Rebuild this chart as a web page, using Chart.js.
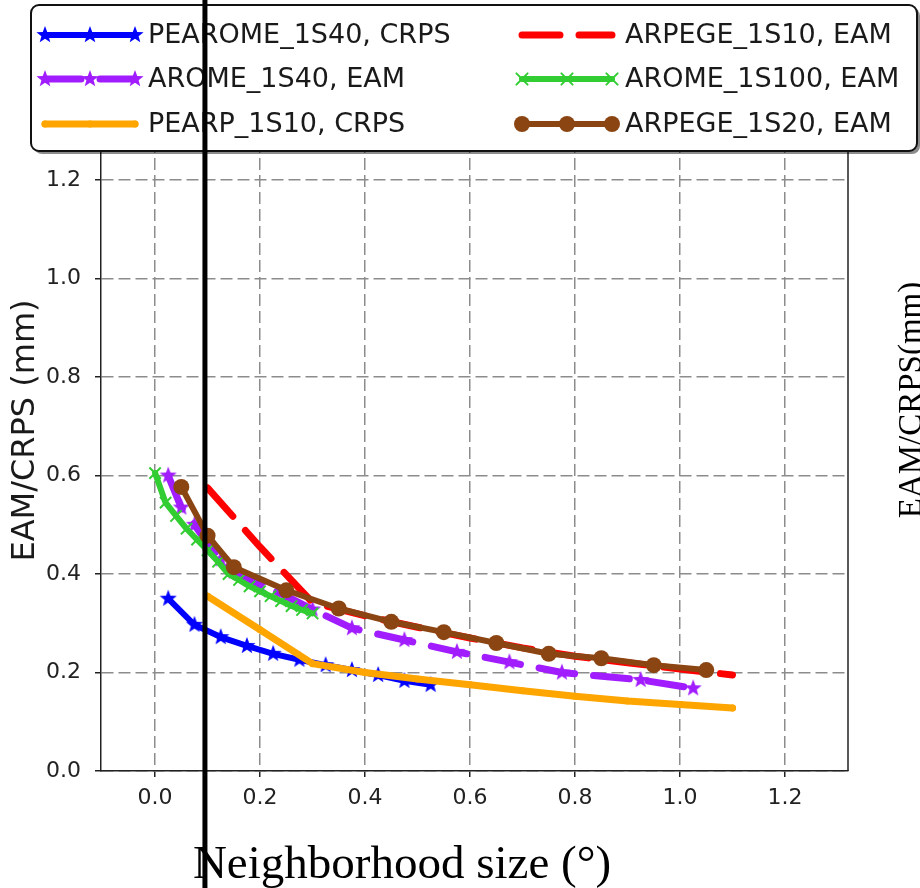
<!DOCTYPE html>
<html>
<head>
<meta charset="utf-8">
<script src="https://cdn.jsdelivr.net/npm/chart.js@4.4.1/dist/chart.umd.min.js"></script>
<style>
html, body { margin: 0; padding: 0; background: #fff; }
canvas { display: block; }
</style>
</head>
<body>
<canvas id="myChart" width="920" height="888"></canvas>
<script>
// values
var xTickValues = [0.0, 0.2, 0.4, 0.6, 0.8, 1.0, 1.2];
var yTickValues = [0.0, 0.2, 0.4, 0.6, 0.8, 1.0, 1.2];

var pearomeX = [0.025, 0.075, 0.125, 0.175, 0.225, 0.275, 0.325, 0.375, 0.425, 0.475, 0.525];
var pearomeY = [0.35, 0.297, 0.272, 0.254, 0.238, 0.226, 0.215, 0.205, 0.195, 0.183, 0.175];

var aromeX = [0.025, 0.05, 0.075, 0.1, 0.125, 0.15, 0.2, 0.25, 0.3, 0.375, 0.475, 0.575, 0.675, 0.775, 0.925, 1.025];
var aromeY = [0.6, 0.535, 0.5, 0.462, 0.43, 0.405, 0.378, 0.355, 0.328, 0.29, 0.266, 0.242, 0.221, 0.2, 0.185, 0.168];

var pearpX = [0.1, 0.2, 0.3, 0.4, 0.5, 0.6, 0.7, 0.8, 0.9, 1.0, 1.1];
var pearpY = [0.355, 0.287, 0.218, 0.2, 0.187, 0.175, 0.163, 0.152, 0.142, 0.135, 0.128];

var arpege10X = [0.1, 0.2, 0.3, 0.4, 0.5, 0.6, 0.7, 0.8, 0.9, 1.0, 1.1];
var arpege10Y = [0.575, 0.455, 0.342, 0.315, 0.292, 0.27, 0.25, 0.233, 0.22, 0.207, 0.195];

var arome100X = [0.0, 0.02, 0.04, 0.06, 0.08, 0.1, 0.12, 0.14, 0.16, 0.18, 0.2, 0.22, 0.24, 0.26, 0.28, 0.3];
var arome100Y = [0.605, 0.545, 0.518, 0.492, 0.47, 0.448, 0.425, 0.4, 0.388, 0.375, 0.365, 0.355, 0.345, 0.335, 0.327, 0.32];

var arpege20X = [0.05, 0.1, 0.15, 0.25, 0.35, 0.45, 0.55, 0.65, 0.75, 0.85, 0.95, 1.05];
var arpege20Y = [0.577, 0.478, 0.414, 0.367, 0.33, 0.303, 0.282, 0.26, 0.238, 0.229, 0.215, 0.205];

function pts(xs, ys) {
    return xs.map(function (x, i) { return { x: x, y: ys[i] }; });
}

// filled star like matplotlib '*'
function starCanvas(color, r) {
    var c = document.createElement("canvas");
    c.width = c.height = Math.ceil(2 * r + 2);
    var g = c.getContext("2d");
    var cx = c.width / 2, cy = c.height / 2;
    g.beginPath();
    for (var k = 0; k < 10; k++) {
        var rad = k % 2 === 0 ? r : r * 0.42;
        var a = -Math.PI / 2 + k * Math.PI / 5;
        g.lineTo(cx + rad * Math.cos(a), cy + rad * Math.sin(a));
    }
    g.closePath();
    g.fillStyle = color;
    g.fill();
    return c;
}

var blueStar = starCanvas("#0000ff", 9);
var purpleStar = starCanvas("#a11cff", 9);

var datasets = [
    { label: "PEAROME_1S40, CRPS", data: pts(pearomeX, pearomeY), borderColor: "#0000ff", backgroundColor: "#0000ff",
      borderWidth: 6, pointStyle: blueStar, pointRadius: 9, order: 5 },
    { label: "AROME_1S40, EAM", data: pts(aromeX, aromeY), borderColor: "#a11cff", backgroundColor: "#a11cff",
      borderWidth: 7, borderDash: [36, 19], pointStyle: purpleStar, pointRadius: 9, order: 4 },
    { label: "PEARP_1S10, CRPS", data: pts(pearpX, pearpY), borderColor: "#ffa500", backgroundColor: "#ffa500",
      borderWidth: 7, pointStyle: "circle", pointRadius: 3.5, pointBorderWidth: 0, order: 3 },
    { label: "ARPEGE_1S10, EAM", data: pts(arpege10X, arpege10Y), borderColor: "#ff0000", backgroundColor: "#ff0000",
      borderWidth: 7, borderDash: [38, 19], pointRadius: 0, order: 2 },
    { label: "AROME_1S100, EAM", data: pts(arome100X, arome100Y), borderColor: "#32cd32", backgroundColor: "#32cd32",
      borderWidth: 6, pointStyle: "crossRot", pointRadius: 8, pointBorderWidth: 2, order: 1 },
    { label: "ARPEGE_1S20, EAM", data: pts(arpege20X, arpege20Y), borderColor: "#8b4513", backgroundColor: "#8b4513",
      borderWidth: 6, pointStyle: "circle", pointRadius: 8, pointBorderWidth: 0, order: 0 }
];
datasets.forEach(function (d) {
    d.tension = 0;
    d.fill = false;
    d.borderCapStyle = "round";
    d.borderJoinStyle = "round";
});

function drawMarker(ctx, d, x, y) {
    var s = d.pointStyle;
    if (d.pointRadius === 0) return;
    if (s instanceof HTMLCanvasElement) {
        ctx.drawImage(s, x - s.width / 2, y - s.height / 2);
    } else if (s === "crossRot") {
        var r = d.pointRadius;
        ctx.strokeStyle = d.borderColor;
        ctx.lineWidth = d.pointBorderWidth;
        ctx.setLineDash([]);
        ctx.beginPath();
        ctx.moveTo(x - r * 0.7, y - r * 0.7); ctx.lineTo(x + r * 0.7, y + r * 0.7);
        ctx.moveTo(x - r * 0.7, y + r * 0.7); ctx.lineTo(x + r * 0.7, y - r * 0.7);
        ctx.stroke();
    } else {
        ctx.fillStyle = d.backgroundColor;
        ctx.beginPath();
        ctx.arc(x, y, d.pointRadius, 0, Math.PI * 2);
        ctx.fill();
    }
}

function roundRect(ctx, x, y, w, h, r) {
    ctx.beginPath();
    ctx.moveTo(x + r, y);
    ctx.arcTo(x + w, y, x + w, y + h, r);
    ctx.arcTo(x + w, y + h, x, y + h, r);
    ctx.arcTo(x, y + h, x, y, r);
    ctx.arcTo(x, y, x + w, y, r);
    ctx.closePath();
}

var decor = {
    id: "decor",
    afterDraw: function (chart) {
        var ctx = chart.ctx, a = chart.chartArea;
        ctx.save();

        // top and right spines
        ctx.strokeStyle = "#222";
        ctx.lineWidth = 1.5;
        ctx.beginPath();
        ctx.moveTo(a.left, a.top);
        ctx.lineTo(a.right, a.top);
        ctx.lineTo(a.right, a.bottom);
        ctx.stroke();

        // legend box (2 columns, matplotlib fills column-wise)
        ctx.fillStyle = "rgba(0,0,0,0.45)";
        roundRect(ctx, 34, 8, 886, 146, 8);
        ctx.fill();
        ctx.fillStyle = "#fff";
        roundRect(ctx, 31, 5, 886, 146, 8);
        ctx.fill();
        ctx.strokeStyle = "#111";
        ctx.lineWidth = 2;
        ctx.stroke();

        var rows = [35, 79, 124];
        var cols = [45, 522];
        ctx.font = '27px "DejaVu Sans"';
        ctx.textBaseline = "middle";
        datasets.forEach(function (d, i) {
            var x0 = cols[Math.floor(i / 3)], y = rows[i % 3];
            ctx.strokeStyle = d.borderColor;
            ctx.lineWidth = d.borderWidth;
            ctx.lineCap = "round";
            ctx.setLineDash(d.borderDash || []);
            ctx.beginPath();
            ctx.moveTo(x0, y);
            ctx.lineTo(x0 + 90, y);
            ctx.stroke();
            ctx.setLineDash([]);
            [0, 45, 90].forEach(function (dx) { drawMarker(ctx, d, x0 + dx, y); });
            ctx.fillStyle = "#1a1a1a";
            ctx.fillText(d.label, x0 + 103, y + 1);
        });

        // serif x title and cut-off label from the neighbouring panel
        ctx.fillStyle = "#000";
        ctx.font = '47px "Liberation Serif"';
        ctx.textAlign = "center";
        ctx.textBaseline = "alphabetic";
        ctx.fillText("Neighborhood size (\u00b0)", 402, 878);

        ctx.save();
        ctx.translate(921, 400);
        ctx.rotate(-Math.PI / 2);
        ctx.font = '33px "Liberation Serif"';
        ctx.fillText("EAM/CRPS(mm)", 0, 0);
        ctx.restore();

        // black vertical rule across the whole picture
        var vx = chart.scales.x.getPixelForValue(0.095);
        ctx.strokeStyle = "#000";
        ctx.lineWidth = 5;
        ctx.beginPath();
        ctx.moveTo(vx, 0);
        ctx.lineTo(vx, chart.height);
        ctx.stroke();

        ctx.restore();
    }
};

var tickFont = { family: "DejaVu Sans", size: 22 };
var gridOpts = {
    color: "#8c8c8c", lineWidth: 1.5, drawTicks: true, tickLength: 6,
    tickColor: "#222", tickWidth: 1.5, tickBorderDash: []
};

new Chart("myChart", {
    type: "line",
    data: { datasets: datasets },
    options: {
        responsive: false,
        animation: false,
        events: [],
        layout: { padding: { top: 90, right: 72, bottom: 0, left: 0 } },
        plugins: { legend: { display: false }, tooltip: { enabled: false } },
        scales: {
            x: {
                type: "linear",
                min: -0.103,
                max: 1.32,
                afterFit: function (s) { s.height = 117; },
                afterBuildTicks: function (s) { s.ticks = xTickValues.map(function (v) { return { value: v }; }); },
                grid: gridOpts,
                border: { display: true, color: "#222", width: 1.5, dash: [12, 5] },
                ticks: { font: tickFont, color: "#222", padding: 8, maxRotation: 0,
                         callback: function (v) { return Number(v).toFixed(1); } }
            },
            y: {
                type: "linear",
                min: 0,
                max: 1.383,
                afterFit: function (s) { s.width = 101; },
                afterBuildTicks: function (s) { s.ticks = yTickValues.map(function (v) { return { value: v }; }); },
                grid: gridOpts,
                border: { display: true, color: "#222", width: 1.5, dash: [12, 5] },
                ticks: { font: tickFont, color: "#222", padding: 14,
                         callback: function (v) { return Number(v).toFixed(1); } },
                title: { display: true, text: "EAM/CRPS (mm)", color: "#1a1a1a",
                         font: { family: "DejaVu Sans", size: 32 }, padding: { top: 6, bottom: 0 } }
            }
        }
    },
    plugins: [decor]
});
</script>
</body>
</html>
